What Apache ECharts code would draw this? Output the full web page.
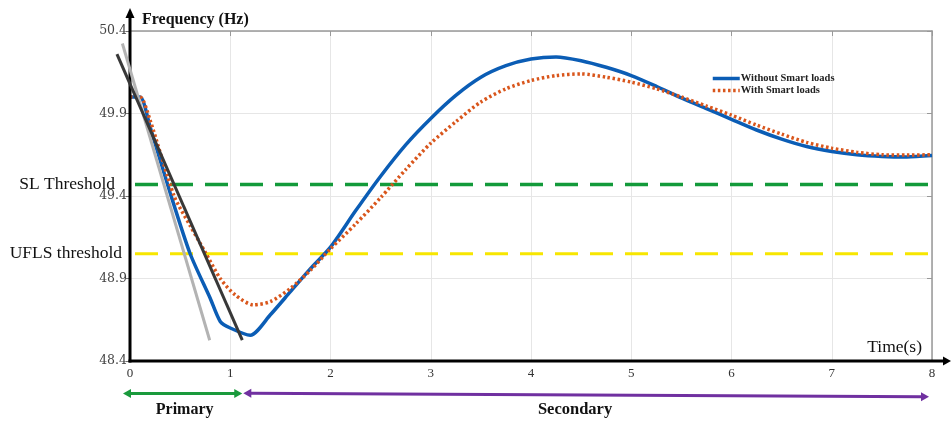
<!DOCTYPE html>
<html><head><meta charset="utf-8">
<script src="https://cdn.jsdelivr.net/npm/echarts@6/dist/echarts.min.js"></script>
<style>html,body{margin:0;padding:0;background:#fff}#c{width:952px;height:423px}</style>
</head><body><div id="c"></div>
<script>
// ---- data ----
const timeWithout = [0, 0.1, 0.2, 0.4, 0.6, 0.8, 0.9, 1.0, 1.2, 1.4, 1.6, 1.8, 2.0, 2.25, 2.5, 2.75, 3.0, 3.25, 3.5, 3.75, 4.0, 4.25, 4.5, 4.75, 5.0, 5.25, 5.5, 5.75, 6.0, 6.25, 6.5, 6.75, 7.0, 7.25, 7.5, 7.75, 8.0];
const freqWithout = [50.0, 50.0, 49.82, 49.42, 49.05, 48.78, 48.64, 48.6, 48.556, 48.68, 48.82, 48.96, 49.09, 49.31, 49.52, 49.71, 49.87, 50.01, 50.12, 50.19, 50.23, 50.243, 50.22, 50.18, 50.13, 50.065, 49.995, 49.93, 49.865, 49.8, 49.745, 49.7, 49.67, 49.65, 49.64, 49.637, 49.645];
const timeWith = [0, 0.1, 0.2, 0.44, 0.6, 0.75, 0.9, 1.05, 1.23, 1.4, 1.6, 1.8, 2.0, 2.25, 2.5, 2.75, 3.0, 3.25, 3.5, 3.75, 4.0, 4.25, 4.5, 4.75, 5.0, 5.25, 5.5, 5.75, 6.0, 6.25, 6.5, 6.75, 7.0, 7.25, 7.5, 7.75, 8.0];
const freqWith = [50.0, 50.0, 49.86, 49.4, 49.22, 49.06, 48.9, 48.8, 48.74, 48.76, 48.84, 48.95, 49.08, 49.23, 49.39, 49.56, 49.72, 49.85, 49.97, 50.05, 50.1, 50.13, 50.14, 50.12, 50.09, 50.05, 50.0, 49.945, 49.89, 49.83, 49.775, 49.725, 49.69, 49.665, 49.65, 49.648, 49.65];
const steepTime = [-0.076, 0.795];
const steepFreq = [50.324, 48.526];
const slopeTime = [-0.13, 1.12];
const slopeFreq = [50.26, 48.526];
const slThreshold = 49.47;
const uflsThreshold = 49.05;
const yTickValues = [48.4, 48.9, 49.4, 49.9, 50.4];
const xRange = [0, 8];
const primarySpan = [-0.07, 1.12];
const secondarySpan = [1.13, 7.97];
const seriesNames = ['Without Smart loads', 'With Smart loads'];

const zip = (a, b) => a.map((v, i) => [v, b[i]]);
const SERIF = '"Liberation Serif", "Times New Roman", serif';
const BLUE = '#0b5db5', ORANGE = '#d9561c', DOTS = [2.5, 2.6];

const chart = echarts.init(document.getElementById('c'), null, {renderer: 'canvas'});
const option = {
  animation: false,
  backgroundColor: '#fff',
  grid: {left: 130, right: 20, top: 31, bottom: 62, containLabel: false},
  legend: {
    data: [
      {name: seriesNames[0], itemStyle: {opacity: 0}, lineStyle: {color: BLUE, width: 3.5, type: 'solid', opacity: 1}},
      {name: seriesNames[1], itemStyle: {opacity: 0}, lineStyle: {color: ORANGE, width: 3.5, type: DOTS, opacity: 1}}
    ],
    orient: 'vertical', left: 711, top: 73,
    itemWidth: 27, itemHeight: 10, itemGap: 1, padding: 0,
    textStyle: {fontFamily: SERIF, fontWeight: 'bold', fontSize: 10.5, color: '#222', padding: [0,0,0,-4]}
  },
  xAxis: [{
    type: 'value', min: xRange[0], max: xRange[1], interval: 1,
    axisLine: {show: false}, axisTick: {show: false},
    axisLabel: {fontFamily: SERIF, fontSize: 13, color: '#333', margin: 6},
    splitLine: {show: true, lineStyle: {color: '#e6e6e6', width: 1}}
  }, {
    type: 'value', position: 'top', min: xRange[0], max: xRange[1], interval: 1,
    axisLine: {show: true, onZero: false, lineStyle: {color: '#999', width: 1.5}},
    axisTick: {show: true, inside: true, length: 5, lineStyle: {color: '#999'}},
    axisLabel: {show: false}, splitLine: {show: false}
  }],
  yAxis: [{
    type: 'value', min: 48.4, max: 50.4,
    axisLine: {show: false},
    axisTick: {show: true, length: 4, customValues: yTickValues, lineStyle: {color: '#777'}},
    axisLabel: {customValues: yTickValues, fontFamily: '"DejaVu Serif", serif', fontSize: 12.5, color: '#444', margin: 3,
      formatter: v => v.toFixed(1)},
    splitLine: {show: true, lineStyle: {color: '#e6e6e6', width: 1}}
  }, {
    type: 'value', position: 'right', min: 48.4, max: 50.4,
    axisLine: {show: true, onZero: false, lineStyle: {color: '#999', width: 1.5}},
    axisTick: {show: true, inside: true, length: 5, customValues: yTickValues, lineStyle: {color: '#999'}},
    axisLabel: {show: false}, splitLine: {show: false}
  }],
  series: [
    {type: 'line', name: 'SL', data: [[xRange[0], slThreshold], [xRange[1], slThreshold]], symbol: 'none', silent: true,
      lineStyle: {color: '#139a3a', width: 3.5, type: [23, 12], dashOffset: -5}},
    {type: 'line', name: 'UFLS', data: [[xRange[0], uflsThreshold], [xRange[1], uflsThreshold]], symbol: 'none', silent: true,
      lineStyle: {color: '#f7e600', width: 3, type: [23, 12], dashOffset: -5}},
    {type: 'line', name: seriesNames[0], data: zip(timeWithout, freqWithout), symbol: 'none', smooth: 0.25,
      color: BLUE, itemStyle: {opacity: 0}, lineStyle: {color: BLUE, width: 3.5, opacity: 1}},
    {type: 'line', name: seriesNames[1], data: zip(timeWith, freqWith), symbol: 'none', smooth: 0.25,
      color: ORANGE, itemStyle: {opacity: 0}, lineStyle: {color: ORANGE, width: 3.5, opacity: 1, type: DOTS}}
  ]
};
chart.setOption(option);

const P = (t, v) => chart.convertToPixel({gridIndex: 0}, [t, v]);
const o = P(0, 48.4);
function arrowH(x1, x2, y1, y2, color, both) {
  const els = [];
  const ah = 8, hw = 4.5;
  els.push({type: 'line', shape: {x1: both ? x1 + ah - 1 : x1, y1, x2: x2 - ah + 1, y2}, style: {stroke: color, lineWidth: 3}});
  els.push({type: 'polygon', shape: {points: [[x2, y2], [x2 - ah, y2 - hw], [x2 - ah, y2 + hw]]}, style: {fill: color}});
  if (both) els.push({type: 'polygon', shape: {points: [[x1, y1], [x1 + ah, y1 - hw], [x1 + ah, y1 + hw]]}, style: {fill: color}});
  return els;
}
const g = [];
// y axis with arrow
g.push({type: 'line', z: 90, shape: {x1: o[0], y1: o[1] + 1.5, x2: o[0], y2: 16}, style: {stroke: '#000', lineWidth: 3}});
g.push({type: 'polygon', shape: {points: [[o[0], 8], [o[0] - 4.5, 18], [o[0] + 4.5, 18]]}, style: {fill: '#000'}});
// x axis with arrow
g.push(...arrowH(o[0] - 1.5, 951, o[1], o[1], '#000', false));
// tangent lines (positioned through the chart's axes)
const s0 = P(steepTime[0], steepFreq[0]), s1 = P(steepTime[1], steepFreq[1]);
const k0 = P(slopeTime[0], slopeFreq[0]), k1 = P(slopeTime[1], slopeFreq[1]);
g.push({type: 'line', z: 95, shape: {x1: s0[0], y1: s0[1], x2: s1[0], y2: s1[1]}, style: {stroke: '#b3b3b3', lineWidth: 3}});
g.push({type: 'line', z: 96, shape: {x1: k0[0], y1: k0[1], x2: k1[0], y2: k1[1]}, style: {stroke: '#383838', lineWidth: 3}});
// titles
g.push({type: 'text', style: {text: 'Frequency (Hz)', x: 142, y: 20, fontFamily: SERIF, fontWeight: 'bold', fontSize: 16, fill: '#111', verticalAlign: 'middle'}});
g.push({type: 'text', style: {text: 'Time(s)', x: 922, y: 347, align: 'right', verticalAlign: 'middle', fontFamily: SERIF, fontSize: 17.5, fill: '#111'}});
const ySL = P(0, slThreshold)[1], yUF = P(0, uflsThreshold)[1];
g.push({type: 'text', style: {text: 'SL Threshold', x: 115, y: ySL, align: 'right', verticalAlign: 'middle', fontFamily: SERIF, fontSize: 17.5, fill: '#111'}});
g.push({type: 'text', style: {text: 'UFLS threshold', x: 122, y: yUF, align: 'right', verticalAlign: 'middle', fontFamily: SERIF, fontSize: 17.5, fill: '#111'}});
// phase arrows
const pa = P(primarySpan[0], 48.4)[0], pb = P(primarySpan[1], 48.4)[0];
const sa = P(secondarySpan[0], 48.4)[0], sb = P(secondarySpan[1], 48.4)[0];
g.push(...arrowH(pa, pb, 393.5, 393.5, '#1a9a3c', true));
g.push({type: 'line', shape: {x1: sa + 7, y1: 393.3, x2: sb - 7, y2: 396.7}, style: {stroke: '#7030a0', lineWidth: 3}});
g.push({type: 'polygon', shape: {points: [[sa, 393.2], [sa + 8, 388.7], [sa + 8, 397.7]]}, style: {fill: '#7030a0'}});
g.push({type: 'polygon', shape: {points: [[sb, 396.8], [sb - 8, 392.3], [sb - 8, 401.3]]}, style: {fill: '#7030a0'}});
g.push({type: 'text', style: {text: 'Primary', x: (pa + pb) / 2 + 2, y: 410, align: 'center', verticalAlign: 'middle', fontFamily: SERIF, fontWeight: 'bold', fontSize: 16, fill: '#111'}});
g.push({type: 'text', style: {text: 'Secondary', x: 575, y: 410, align: 'center', verticalAlign: 'middle', fontFamily: SERIF, fontWeight: 'bold', fontSize: 16.5, fill: '#111'}});
chart.setOption({graphic: {elements: g.map(e => Object.assign({z: 100, silent: true}, e))}});
</script></body></html>
